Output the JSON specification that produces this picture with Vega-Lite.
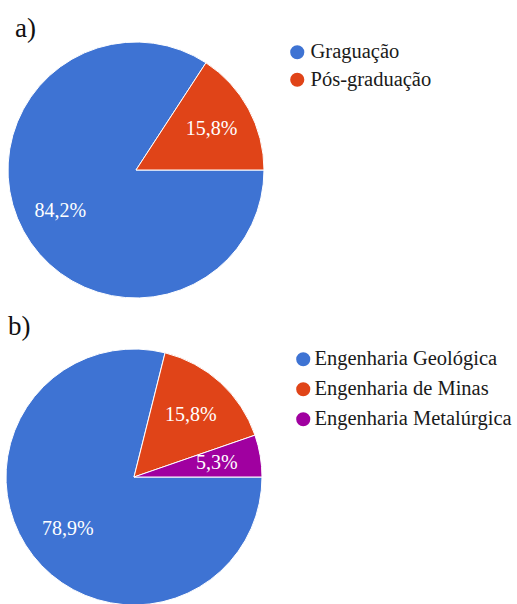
{
  "$schema": "https://vega.github.io/schema/vega-lite/v6.json",
  "padding": {"left": 0, "top": 15, "right": 0, "bottom": 0},
  "background": "white",
  "spacing": 13,
  "config": {
    "view": {"stroke": null},
    "title": {"font": "Liberation Serif, Times New Roman, serif", "fontSize": 27, "fontWeight": "normal", "color": "#111111", "anchor": "start"}
  },
  "resolve": {"scale": {"color": "independent", "theta": "independent"}, "legend": {"color": "independent"}},
  "vconcat": [
    {
      "width": 272,
      "height": 256,
      "title": {"text": "a)", "dx": 15, "offset": -3},
      "data": {"values": [
        {"cat": "Graguação", "pct": 84.2, "label": "84,2%", "i": 1},
        {"cat": "Pós-graduação", "pct": 15.8, "label": "15,8%", "i": 2}
      ]},
      "encoding": {
        "theta": {"field": "pct", "type": "quantitative", "stack": true, "scale": {"range": [1.5708, 7.854]}},
        "order": {"field": "i", "type": "ordinal"}
      },
      "layer": [
        {
          "mark": {"type": "arc", "radius": 128, "stroke": "white", "strokeWidth": 1},
          "encoding": {
            "color": {
              "field": "cat", "type": "nominal",
              "scale": {"domain": ["Graguação", "Pós-graduação"], "range": ["#3e73d3", "#e04418"]},
              "legend": {"orient": "none", "legendX": 287, "legendY": 0, "title": null, "symbolType": "circle", "symbolSize": 200, "symbolStrokeWidth": 0, "labelFont": "Liberation Serif, Times New Roman, serif", "labelFontSize": 20.5, "labelColor": "#1a1a1a", "labelLimit": 400, "rowPadding": 6.5, "labelOffset": 3, "padding": 0}
            }
          }
        },
        {
          "mark": {"type": "text", "radius": 86, "font": "Liberation Serif, Times New Roman, serif", "fontSize": 20, "color": "white"},
          "encoding": {"text": {"field": "label"}}
        }
      ]
    },
    {
      "width": 268,
      "height": 256,
      "title": {"text": "b)", "dx": 8, "offset": 6},
      "data": {"values": [
        {"cat": "Engenharia Geológica", "pct": 78.9, "label": "78,9%", "i": 1},
        {"cat": "Engenharia de Minas", "pct": 15.8, "label": "15,8%", "i": 2},
        {"cat": "Engenharia Metalúrgica", "pct": 5.3, "label": "5,3%", "i": 3}
      ]},
      "encoding": {
        "theta": {"field": "pct", "type": "quantitative", "stack": true, "scale": {"range": [1.5708, 7.854]}},
        "order": {"field": "i", "type": "ordinal"}
      },
      "layer": [
        {
          "mark": {"type": "arc", "radius": 128, "stroke": "white", "strokeWidth": 1},
          "encoding": {
            "color": {
              "field": "cat", "type": "nominal",
              "scale": {"domain": ["Engenharia Geológica", "Engenharia de Minas", "Engenharia Metalúrgica"], "range": ["#3e73d3", "#e04418", "#a000a0"]},
              "legend": {"orient": "none", "legendX": 293, "legendY": 0, "title": null, "symbolType": "circle", "symbolSize": 200, "symbolStrokeWidth": 0, "labelFont": "Liberation Serif, Times New Roman, serif", "labelFontSize": 20.5, "labelColor": "#1a1a1a", "labelLimit": 400, "rowPadding": 9, "labelOffset": 1, "padding": 0}
            }
          }
        },
        {
          "mark": {"type": "text", "font": "Liberation Serif, Times New Roman, serif", "fontSize": 20, "color": "white"},
          "encoding": {
            "text": {"field": "label"},
            "radius": {"condition": {"test": "datum.pct < 10", "value": 101}, "value": 84}
          }
        }
      ]
    }
  ]
}
